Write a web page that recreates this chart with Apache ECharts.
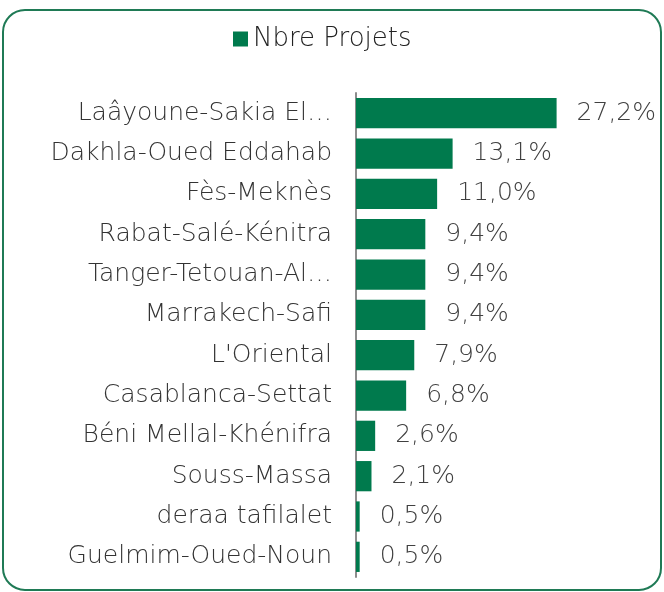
<!DOCTYPE html>
<html>
<head>
<meta charset="utf-8">
<script src="https://cdn.jsdelivr.net/npm/echarts@6/dist/echarts.min.js"></script>
<style>
  html, body { margin: 0; padding: 0; background: #fff; }
  #main { width: 664px; height: 592px; }
</style>
</head>
<body>
<div id="main"></div>
<script>
var regions = [
  'Laâyoune-Sakia El…',
  'Dakhla-Oued Eddahab',
  'Fès-Meknès',
  'Rabat-Salé-Kénitra',
  'Tanger-Tetouan-Al…',
  'Marrakech-Safi',
  "L'Oriental",
  'Casablanca-Settat',
  'Béni Mellal-Khénifra',
  'Souss-Massa',
  'deraa tafilalet',
  'Guelmim-Oued-Noun'
];
var projetsPct = [27.2, 13.1, 11.0, 9.4, 9.4, 9.4, 7.9, 6.8, 2.6, 2.1, 0.5, 0.5];

var chart = echarts.init(document.getElementById('main'));

var font = 'DejaVu Sans';

var option = {
  animation: false,
  textStyle: { fontFamily: font },
  graphic: [{
    type: 'rect',
    shape: { x: 3, y: 10, width: 658, height: 580, r: 22 },
    style: { fill: 'none', stroke: '#1f7a55', lineWidth: 2 },
    silent: true
  }],
  legend: {
    data: ['Nbre Projets'],
    top: 21,
    left: 228,
    icon: 'rect',
    itemWidth: 15,
    itemHeight: 15,
    itemGap: 8,
    textStyle: { fontSize: 26, color: '#222', fontFamily: font, fontWeight: 200 }
  },
  grid: {
    left: 356,
    right: 13,
    top: 93,
    bottom: 15,
    containLabel: false
  },
  xAxis: {
    type: 'value',
    min: 0,
    max: 40,
    show: false
  },
  yAxis: {
    type: 'category',
    inverse: true,
    data: regions,
    axisTick: { show: false },
    axisLine: { show: true, lineStyle: { color: '#8c8c8c', width: 2 } },
    axisLabel: {
      margin: 24,
      fontSize: 25,
      color: '#333',
      fontFamily: font,
      fontWeight: 200
    }
  },
  series: [{
    name: 'Nbre Projets',
    type: 'bar',
    data: projetsPct,
    barCategoryGap: '25%',
    itemStyle: { color: '#007a4d' },
    label: {
      show: true,
      position: 'right',
      distance: 20,
      fontSize: 25,
      color: '#404040',
      fontFamily: font,
      fontWeight: 200,
      formatter: function (p) {
        return p.value.toFixed(1).replace('.', ',') + '%';
      }
    }
  }]
};

chart.setOption(option);
</script>
</body>
</html>
